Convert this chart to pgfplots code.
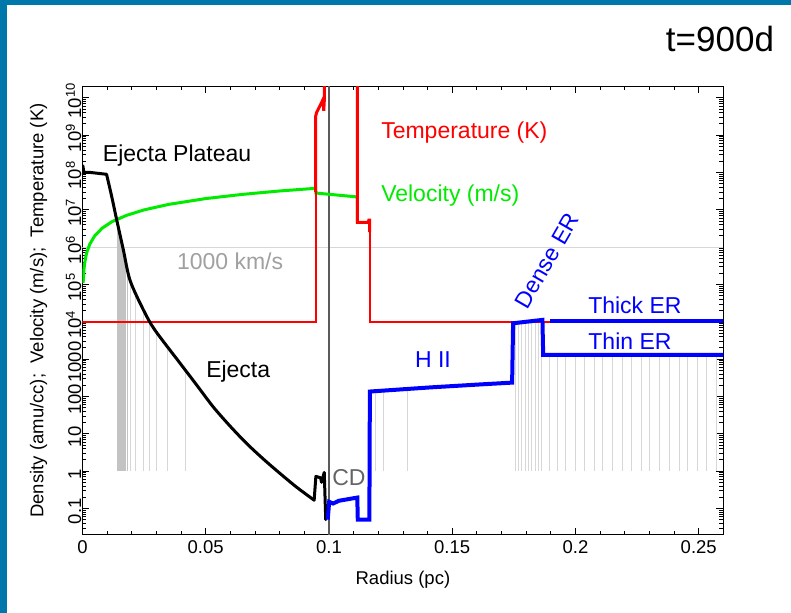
\documentclass[border=0pt]{standalone}
\usepackage{pgfplots}
\pgfplotsset{compat=1.18}
\usepackage{fontspec}
\setmainfont{Liberation Sans}
\definecolor{frameblue}{RGB}{0,119,170}
\definecolor{vgreen}{RGB}{0,235,0}
\definecolor{tred}{RGB}{255,0,0}
\definecolor{dblue}{RGB}{0,0,255}
\definecolor{cdgray}{RGB}{90,90,90}
\definecolor{densegray}{RGB}{195,195,195}
\definecolor{sparsegray}{RGB}{215,215,215}
\newcommand\annfont{\fontsize{23bp}{26bp}\selectfont}
\begin{document}
\begin{tikzpicture}
\useasboundingbox (0,0) rectangle (791bp,613bp);
\fill[frameblue] (0,0) rectangle (7bp,613bp);
\fill[frameblue] (0,608bp) rectangle (791bp,613bp);
\begin{axis}[
  at={(82.4bp,78.5bp)}, anchor=south west,
  scale only axis, width=641bp, height=448bp,
  xmin=0, xmax=0.26, ymode=log, ymin=0.02, ymax=2e10,
  axis line style={line width=1bp, black},
  tick align=inside,
  major tick length=7bp, minor tick length=4bp,
  every tick/.style={black, line width=0.8bp},
  xtick={0,0.05,0.1,0.15,0.2,0.25},
  xticklabels={0,0.05,0.1,0.15,0.2,0.25},
  minor xtick={0.01,0.02,0.03,0.04,0.06,0.07,0.08,0.09,0.11,0.12,0.13,0.14,0.16,0.17,0.18,0.19,0.21,0.22,0.23,0.24,0.26},
  ytick={0.1,1,10,100,1000,1e4,1e5,1e6,1e7,1e8,1e9,1e10},
  yticklabels={0.1,1,10,100,1000,10\textsuperscript{4},10\textsuperscript{5},10\textsuperscript{6},10\textsuperscript{7},10\textsuperscript{8},10\textsuperscript{9},10\textsuperscript{10}},
  minor ytick={0.03,0.04,0.05,0.06,0.07,0.08,0.09,
    0.2,0.3,0.4,0.5,0.6,0.7,0.8,0.9,
    2,3,4,5,6,7,8,9,
    20,30,40,50,60,70,80,90,
    200,300,400,500,600,700,800,900,
    2e3,3e3,4e3,5e3,6e3,7e3,8e3,9e3,
    2e4,3e4,4e4,5e4,6e4,7e4,8e4,9e4,
    2e5,3e5,4e5,5e5,6e5,7e5,8e5,9e5,
    2e6,3e6,4e6,5e6,6e6,7e6,8e6,9e6,
    2e7,3e7,4e7,5e7,6e7,7e7,8e7,9e7,
    2e8,3e8,4e8,5e8,6e8,7e8,8e8,9e8,
    2e9,3e9,4e9,5e9,6e9,7e9,8e9,9e9},
  tick label style={font=\fontsize{18.5bp}{20bp}\selectfont},
  yticklabel style={rotate=90, anchor=south, inner sep=1bp, xshift=-3bp},
  xticklabel style={yshift=-3bp},
  xlabel={Radius (pc)},
  ylabel={Density (amu/cc);\ \ Velocity (m/s);\ \ Temperature (K)},
  label style={font=\fontsize{18.5bp}{20bp}\selectfont},
  xlabel style={yshift=-10bp},
  ylabel style={yshift=14bp},
  unbounded coords=jump,
  clip mode=individual,
]
% reference lines
\addplot[draw=sparsegray, line width=0.8bp] coordinates {(0,1e6) (0.26,1e6)};
% ejecta zone lines (dense)
\addplot[draw=densegray, line width=0.5bp] coordinates {
(0.0140,1) (0.0140,5.0e6) (0.0140,nan)
(0.0143,1) (0.0143,4.1e6) (0.0143,nan)
(0.0146,1) (0.0146,3.3e6) (0.0146,nan)
(0.0149,1) (0.0149,2.7e6) (0.0149,nan)
(0.0152,1) (0.0152,2.2e6) (0.0152,nan)
(0.0155,1) (0.0155,1.8e6) (0.0155,nan)
(0.0158,1) (0.0158,1.5e6) (0.0158,nan)
(0.0161,1) (0.0161,1.2e6) (0.0161,nan)
(0.0165,1) (0.0165,9.1e5) (0.0165,nan)
(0.0169,1) (0.0169,6.9e5) (0.0169,nan)
(0.0174,1) (0.0174,4.9e5) (0.0174,nan)
(0.0180,1) (0.0180,3.2e5) (0.0180,nan)
};
\addplot[draw=sparsegray, line width=0.6bp] coordinates {
(0.0193,1) (0.0193,1.3e5) (0.0193,nan)
(0.0213,1) (0.0213,6.7e4) (0.0213,nan)
(0.0247,1) (0.0247,2.1e4) (0.0247,nan)
(0.0271,1) (0.0271,1.1e4) (0.0271,nan)
(0.0301,1) (0.0301,5.2e3) (0.0301,nan)
(0.0344,1) (0.0344,2.2e3) (0.0344,nan)
(0.0416,1) (0.0416,520) (0.0416,nan)
(0.1187,1) (0.1187,138) (0.1187,nan)
(0.1220,1) (0.1220,141) (0.1220,nan)
(0.1316,1) (0.1316,155) (0.1316,nan)
(0.1755,1) (0.1755,9200) (0.1755,nan)
(0.1768,1) (0.1768,9400) (0.1768,nan)
(0.1782,1) (0.1782,9700) (0.1782,nan)
(0.1795,1) (0.1795,9900) (0.1795,nan)
(0.1809,1) (0.1809,10100) (0.1809,nan)
(0.1822,1) (0.1822,10400) (0.1822,nan)
(0.1836,1) (0.1836,10600) (0.1836,nan)
(0.1849,1) (0.1849,10900) (0.1849,nan)
(0.1862,1) (0.1862,11100) (0.1862,nan)
(0.1895,1) (0.1895,1290) (0.1895,nan)
(0.1925,1) (0.1925,1290) (0.1925,nan)
(0.1960,1) (0.1960,1290) (0.1960,nan)
(0.2000,1) (0.2000,1290) (0.2000,nan)
(0.2035,1) (0.2035,1290) (0.2035,nan)
(0.2075,1) (0.2075,1290) (0.2075,nan)
(0.2110,1) (0.2110,1290) (0.2110,nan)
(0.2150,1) (0.2150,1290) (0.2150,nan)
(0.2190,1) (0.2190,1290) (0.2190,nan)
(0.2225,1) (0.2225,1290) (0.2225,nan)
(0.2265,1) (0.2265,1290) (0.2265,nan)
(0.2300,1) (0.2300,1290) (0.2300,nan)
(0.2340,1) (0.2340,1290) (0.2340,nan)
(0.2380,1) (0.2380,1290) (0.2380,nan)
(0.2420,1) (0.2420,1290) (0.2420,nan)
(0.2455,1) (0.2455,1290) (0.2455,nan)
(0.2495,1) (0.2495,1290) (0.2495,nan)
(0.2530,1) (0.2530,1290) (0.2530,nan)
(0.2570,1) (0.2570,1290) (0.2570,nan)
};
% contact discontinuity line
\addplot[draw=cdgray, line width=1.2bp] coordinates {(0.1,0.02) (0.1,2e10)};
% velocity
\addplot[draw=vgreen, line width=3bp] coordinates {
(0.0003,1.1e5) (0.0006,2.4e5) (0.001,4e5) (0.0015,6e5) (0.002,8e5) (0.003,1.2e6) (0.005,2e6) (0.008,3.2e6) (0.012,4.8e6) (0.018,7.1e6) (0.025,9.9e6) (0.035,1.39e7) (0.05,1.99e7) (0.065,2.58e7) (0.08,3.18e7) (0.0946,3.75e7) (0.0947,2.8e7) (0.1115,2.2e7) (0.1115,4.6e6)
};
% temperature thin (drawn above the ejecta lines)
\addplot[color=tred, line width=1.8bp] coordinates {
(0,1e4) (0.0946,1e4) (0.0946,3.2e9)
};
\addplot[color=tred, line width=1.8bp] coordinates {
(0.1166,2.5e6) (0.1166,1e4) (0.26,1e4)
};
% ejecta density: plateau, fall, reverse-shock region
\addplot[draw=black, line width=3bp, line join=round, line cap=round] coordinates {
(0,9.5e7) (0.0002,1.5e8) (0.0006,1.0e8) (0.003,1.0e8) (0.0098,8.9e7)
};
\addplot[draw=black, line width=3bp, line cap=round, smooth, tension=0.5] coordinates {
(0.0098,8.9e7) (0.0119,2.24e7) (0.0139,5.4e6) (0.0166,8.5e5) (0.0193,1.3e5) (0.0247,2.1e4) (0.0294,6.0e3) (0.0396,776) (0.0463,204) (0.0531,52) (0.0599,16) (0.0666,5.5) (0.0734,2.1) (0.0801,0.87) (0.0869,0.37) (0.0940,0.166)
};
\addplot[draw=black, line width=3bp, line join=round, line cap=round] coordinates {
(0.0940,0.166) (0.0947,0.72) (0.0966,0.66) (0.0970,0.5) (0.0981,0.92) (0.0987,0.05)
};
% CSM density
\addplot[draw=dblue, line width=4bp] coordinates {
(0.0995,0.05) (0.1001,0.15) (0.1017,0.135) (0.1040,0.16) (0.1115,0.195) (0.1117,0.05) (0.1164,0.05) (0.1166,135) (0.141,174) (0.1612,209) (0.1743,234) (0.1747,9100) (0.1866,11200) (0.1869,1290) (0.26,1290)
};
\addplot[draw=dblue, line width=4bp] coordinates {(0.1896,10700) (0.26,10700)};
% temperature thick
\addplot[draw=tred, line width=3bp] coordinates {
(0.0946,3.0e7) (0.0946,3.2e9) (0.0950,4.0e9) (0.0966,6.5e9) (0.0976,9e9) (0.0979,4.5e9) (0.0981,8e9) (0.0982,5e10)
};
\addplot[draw=tred, line width=3bp] coordinates {
(0.1115,5e10) (0.1115,4.6e6) (0.1160,4.6e6) (0.1162,5.3e6) (0.1165,5.3e6) (0.1165,2.5e6)
};
% annotations
\node[font=\annfont] at (0.0384,2.9e8) {Ejecta Plateau};
\node[font=\annfont, text=tred, anchor=west] at (0.1198,1.15e9) {Temperature (K)};
\node[font=\annfont, text=vgreen, anchor=west] at (0.1198,2.35e7) {Velocity (m/s)};
\node[font=\annfont, text={rgb,255:red,160;green,160;blue,160}] at (0.0599,4.1e5) {1000 km/s};
\node[font=\annfont] at (0.0632,457) {Ejecta};
\node[font=\annfont, text={rgb,255:red,100;green,100;blue,100}] at (0.1081,0.66) {CD};
\node[font=\annfont, text=dblue] at (0.1422,955) {H II};
\node[font=\annfont, text=dblue, rotate=60] at (0.1885,4.3e5) {Dense ER};
\node[font=\annfont, text=dblue] at (0.2241,2.8e4) {Thick ER};
\node[font=\annfont, text=dblue] at (0.2221,2950) {Thin ER};
\end{axis}
\node[font=\fontsize{35bp}{38bp}\selectfont, anchor=base] at (720bp,561bp) {t=900d};
\end{tikzpicture}
\end{document}
